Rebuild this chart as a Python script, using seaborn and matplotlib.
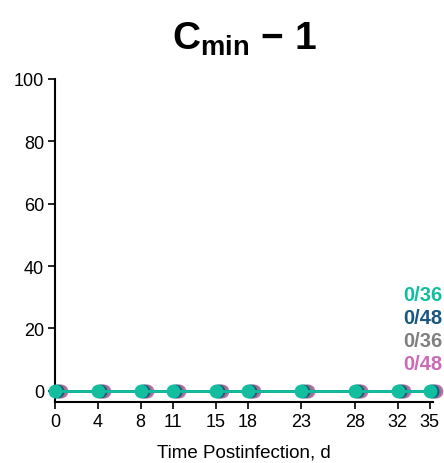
import matplotlib
matplotlib.use("Agg")
import matplotlib.pyplot as plt
import seaborn as sns
import pandas as pd
import numpy as np

days = [0, 4, 8, 11, 15, 18, 23, 28, 32, 35]
groups = ["pink", "gray", "navy", "green"]
values_pink = [0, 0, 0, 0, 0, 0, 0, 0, 0, 0]
values_gray = [0, 0, 0, 0, 0, 0, 0, 0, 0, 0]
values_navy = [0, 0, 0, 0, 0, 0, 0, 0, 0, 0]
values_green = [0, 0, 0, 0, 0, 0, 0, 0, 0, 0]
labels = {"green": "0/36", "navy": "0/48", "gray": "0/36", "pink": "0/48"}
colors = {"green": "#13BE9E", "navy": "#1A5882", "gray": "#808080", "pink": "#CB6CB8"}
offsets = {"green": 0.0, "navy": 0.2, "gray": 0.4, "pink": 0.6}

sns.set_theme(style="ticks")
plt.rcParams["font.family"] = ["Liberation Sans", "DejaVu Sans"]
plt.rcParams["mathtext.fontset"] = "custom"
plt.rcParams["mathtext.rm"] = "Liberation Sans"
plt.rcParams["mathtext.bf"] = "Liberation Sans:bold"
plt.rcParams["mathtext.it"] = "Liberation Sans:italic"
plt.rcParams["text.color"] = "black"
plt.rcParams["axes.labelcolor"] = "black"

fig, ax = plt.subplots(figsize=(4.44, 4.64), dpi=100)
fig.subplots_adjust(left=0.124, right=0.975, top=0.828, bottom=0.132)

vals = {"pink": values_pink, "gray": values_gray, "navy": values_navy, "green": values_green}
for g in groups:
    df = pd.DataFrame({"day": np.array(days) + offsets[g], "value": vals[g]})
    sns.lineplot(data=df, x="day", y="value", ax=ax, color=colors[g], linewidth=2,
                 marker="o", markersize=10, markeredgewidth=0, clip_on=False, zorder=3)

ax.set_xlim(0, 35.3)
ax.set_ylim(-3.5, 100)
ax.set_xticks(days)
ax.set_yticks([0, 20, 40, 60, 80, 100])
ax.tick_params(labelsize=13, length=5, width=1.2, colors="black", pad=3)
for s in ["top", "right"]:
    ax.spines[s].set_visible(False)
for s in ["left", "bottom"]:
    ax.spines[s].set_linewidth(1.5)
    ax.spines[s].set_color("black")
ax.spines["left"].set_bounds(-3.5, 100)
ax.set_xlabel("Time Postinfection, d", fontsize=13.5, labelpad=10, color="black")
ax.set_ylabel("")
ax.set_title(r"$\mathbf{C_{min}}$" + " \u2212 1", fontsize=28, fontweight="bold", pad=22,
             color="black")

ypos = [0.332, 0.261, 0.19, 0.119]
for g, yp in zip(["green", "navy", "gray", "pink"], ypos):
    ax.text(1.025, yp, labels[g], transform=ax.transAxes, ha="right", va="center",
            color=colors[g], fontsize=14.5, fontweight="bold")

fig.savefig("out.png", dpi=100)
